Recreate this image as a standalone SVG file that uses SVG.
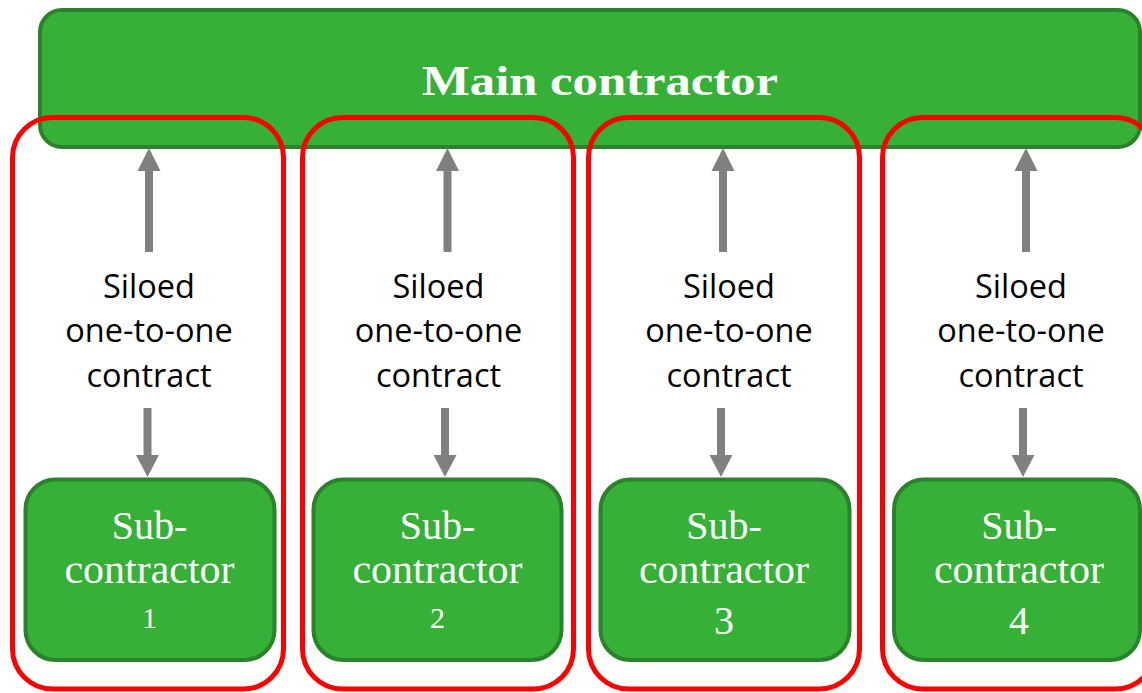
<svg xmlns="http://www.w3.org/2000/svg" width="1142" height="693" viewBox="0 0 1142 693">
<defs>
<style>
.main{fill:#36B037;stroke:#2A832A;stroke-width:4}
.silo{fill:none;stroke:#FF0000;stroke-width:5}
.sub{fill:#36B037;stroke:#2A832A;stroke-width:4}
.arr{fill:#808080;stroke:none}
.mt{font-family:"Liberation Serif",serif;font-weight:bold;font-size:42px;fill:#FFFFFF;text-anchor:middle}
.st{font-family:"Liberation Serif",serif;font-size:40px;fill:#FFFFFF;text-anchor:middle}
.lt{font-family:"Open Sans","Liberation Sans",sans-serif;font-size:32.5px;fill:#000000;text-anchor:middle}
</style>
</defs>
<rect x="0" y="0" width="1142" height="693" fill="#FFFFFF"/>
<g id="main-contractor">
<rect class="main" x="40" y="10" width="1100" height="137" rx="22"/>
<text class="mt" x="600" y="95" textLength="356" lengthAdjust="spacingAndGlyphs">Main contractor</text>
</g>
<g id="silo-1"><rect class="silo" x="12.5" y="117.5" width="271" height="571.5" rx="40"/></g>
<g id="silo-2"><rect class="silo" x="302.5" y="117.5" width="271" height="571.5" rx="40"/></g>
<g id="silo-3"><rect class="silo" x="588.5" y="117.5" width="271" height="571.5" rx="40"/></g>
<g id="silo-4"><rect class="silo" x="882.5" y="117.5" width="273" height="571.5" rx="40"/></g>
<g id="sub-1">
<rect class="sub" x="25.5" y="479.5" width="249" height="180.5" rx="30"/>
<text class="st" x="149.5" y="539">Sub-</text>
<text class="st" x="149.5" y="583" textLength="170" lengthAdjust="spacingAndGlyphs">contractor</text>
<text class="st" x="149.5" y="628" style="font-size:30px">1</text>
</g>
<g id="sub-2">
<rect class="sub" x="313.5" y="479.5" width="248" height="180.5" rx="30"/>
<text class="st" x="437.5" y="539">Sub-</text>
<text class="st" x="437.5" y="583" textLength="170" lengthAdjust="spacingAndGlyphs">contractor</text>
<text class="st" x="437.5" y="628" style="font-size:30px">2</text>
</g>
<g id="sub-3">
<rect class="sub" x="600.5" y="479.5" width="249" height="180.5" rx="30"/>
<text class="st" x="724" y="539">Sub-</text>
<text class="st" x="724" y="583" textLength="170" lengthAdjust="spacingAndGlyphs">contractor</text>
<text class="st" x="724" y="634">3</text>
</g>
<g id="sub-4">
<rect class="sub" x="894" y="479.5" width="246" height="180.5" rx="30"/>
<text class="st" x="1019" y="539">Sub-</text>
<text class="st" x="1019" y="583" textLength="170" lengthAdjust="spacingAndGlyphs">contractor</text>
<text class="st" x="1019" y="634">4</text>
</g>
<g id="connectors">
<path class="arr" d="M145 252 L145 171 L137.5 171 L149 148 L160.5 171 L153 171 L153 252 Z"/>
<path class="arr" d="M143.5 408 L151.5 408 L151.5 455 L159 455 L147.5 477 L136 455 L143.5 455 Z"/>
<path class="arr" d="M443.5 252 L443.5 171 L436 171 L447.5 148 L459 171 L451.5 171 L451.5 252 Z"/>
<path class="arr" d="M441 408 L449 408 L449 455 L456.5 455 L445 477 L433.5 455 L441 455 Z"/>
<path class="arr" d="M719 252 L719 171 L711.5 171 L723 148 L734.5 171 L727 171 L727 252 Z"/>
<path class="arr" d="M717 408 L725 408 L725 455 L732.5 455 L721 477 L709.5 455 L717 455 Z"/>
<path class="arr" d="M1022 252 L1022 171 L1014.5 171 L1026 148 L1037.5 171 L1030 171 L1030 252 Z"/>
<path class="arr" d="M1019 408 L1027 408 L1027 455 L1034.5 455 L1023 477 L1011.5 455 L1019 455 Z"/>
</g>
<g id="labels">
<text class="lt" x="149" y="297.5">Siloed</text>
<text class="lt" x="149" y="342">one-to-one</text>
<text class="lt" x="149" y="386.5">contract</text>
<text class="lt" x="438.5" y="297.5">Siloed</text>
<text class="lt" x="438.5" y="342">one-to-one</text>
<text class="lt" x="438.5" y="386.5">contract</text>
<text class="lt" x="729" y="297.5">Siloed</text>
<text class="lt" x="729" y="342">one-to-one</text>
<text class="lt" x="729" y="386.5">contract</text>
<text class="lt" x="1021" y="297.5">Siloed</text>
<text class="lt" x="1021" y="342">one-to-one</text>
<text class="lt" x="1021" y="386.5">contract</text>
</g>
</svg>
